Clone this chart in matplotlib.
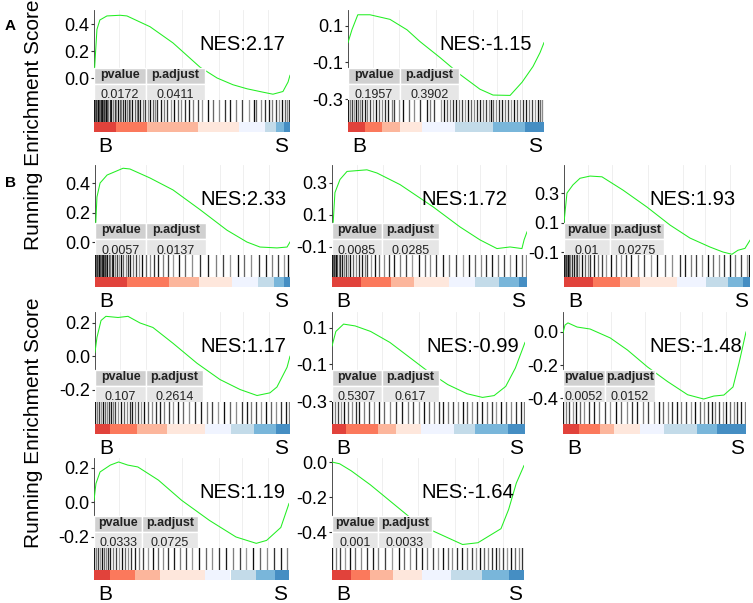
import matplotlib
matplotlib.use("Agg")
import matplotlib.pyplot as plt
from matplotlib.patches import Rectangle

plt.rcParams["font.family"] = ["Liberation Sans", "DejaVu Sans"]

W, H = 753, 603

#------------------------------------------------------------------------------
#- Data -----------------------------------------------------------------------
#------------------------------------------------------------------------------
# running enrichment score curves: x as fraction of the ranked list
a1_x = [0, 0.015, 0.03, 0.066, 0.133, 0.168, 0.286, 0.403, 0.541, 0.628, 0.709, 0.781, 0.862, 0.913, 0.964, 0.99, 1.0]
a1_es = [0.0, 0.36, 0.43, 0.46, 0.465, 0.46, 0.38, 0.26, 0.08, 0.0, -0.05, -0.08, -0.105, -0.12, -0.10, -0.03, 0.02]
a2_x = [0, 0.02, 0.05, 0.112, 0.214, 0.301, 0.367, 0.469, 0.571, 0.673, 0.74, 0.827, 0.888, 0.944, 0.98, 1.0]
a2_es = [0.008, 0.078, 0.16, 0.16, 0.135, 0.078, 0.014, -0.073, -0.165, -0.246, -0.278, -0.28, -0.208, -0.122, -0.046, 0.008]
b1_x = [0, 0.01, 0.026, 0.062, 0.144, 0.179, 0.282, 0.4, 0.538, 0.677, 0.779, 0.846, 0.933, 0.985, 1.0]
b1_es = [0.014, 0.305, 0.40, 0.454, 0.50, 0.495, 0.434, 0.353, 0.22, 0.08, 0.0, -0.034, -0.04, -0.034, 0.0]
b2_x = [0, 0.015, 0.041, 0.077, 0.179, 0.231, 0.349, 0.518, 0.656, 0.759, 0.846, 0.913, 0.974, 0.985, 1.0]
b2_es = [-0.075, 0.238, 0.32, 0.37, 0.38, 0.36, 0.288, 0.15, 0.025, -0.056, -0.11, -0.1, -0.11, -0.056, -0.006]
b3_x = [0, 0.016, 0.048, 0.086, 0.140, 0.204, 0.317, 0.446, 0.570, 0.677, 0.785, 0.855, 0.903, 0.935, 0.973, 1.0]
b3_es = [0.1, 0.3, 0.355, 0.40, 0.415, 0.41, 0.32, 0.205, 0.083, -0.005, -0.066, -0.1, -0.115, -0.088, -0.075, -0.02]
b4_x = [0, 0.01, 0.031, 0.056, 0.118, 0.169, 0.231, 0.297, 0.4, 0.523, 0.641, 0.744, 0.831, 0.897, 0.933, 0.985, 1.0]
b4_es = [0.024, 0.113, 0.215, 0.24, 0.233, 0.24, 0.2, 0.173, 0.078, -0.042, -0.14, -0.2, -0.236, -0.22, -0.185, -0.066, 0.0]
b5_x = [0, 0.02, 0.06, 0.12, 0.2, 0.3, 0.4, 0.5, 0.6, 0.7, 0.78, 0.84, 0.9, 0.95, 1.0]
b5_es = [0.0, 0.08, 0.12, 0.11, 0.08, 0.02, -0.06, -0.14, -0.21, -0.26, -0.28, -0.27, -0.22, -0.12, 0.02]
b6_x = [0, 0.011, 0.027, 0.077, 0.148, 0.258, 0.352, 0.462, 0.571, 0.681, 0.769, 0.824, 0.879, 0.929, 0.962, 1.0]
b6_es = [-0.006, 0.042, 0.055, 0.03, 0.018, -0.036, -0.109, -0.212, -0.3, -0.38, -0.406, -0.388, -0.382, -0.333, -0.188, 0.0]
b7_x = [0, 0.01, 0.031, 0.084, 0.126, 0.173, 0.225, 0.33, 0.450, 0.592, 0.728, 0.832, 0.885, 0.958, 1.0]
b7_es = [0.012, 0.11, 0.177, 0.217, 0.235, 0.217, 0.206, 0.13, 0.012, -0.104, -0.2, -0.237, -0.22, -0.145, -0.006]
b8_x = [0, 0.04, 0.1, 0.2, 0.3, 0.4, 0.5, 0.6, 0.68, 0.76, 0.82, 0.88, 0.92, 0.96, 1.0]
b8_es = [0.0, -0.01, -0.05, -0.13, -0.22, -0.31, -0.38, -0.43, -0.47, -0.46, -0.42, -0.38, -0.27, -0.12, -0.02]

# gene set hits (position out of 200 in the ranked list)
a1_hits = [0, 1, 2, 3, 4, 5, 6, 7, 8, 9, 10, 11, 12, 13, 14, 16, 17, 19, 21, 22, 24, 26, 27, 29, 31, 33, 35, 36, 38, 41, 43, 45, 47, 50, 52, 55, 57, 60, 62, 64, 68, 71, 74, 78, 81, 85, 88, 92, 97, 101, 106, 110, 116, 121, 127, 133, 138, 145, 151, 158, 163, 165, 170, 174, 178, 181, 185, 188, 191, 194, 197, 199]
a2_hits = [0, 2, 4, 6, 8, 10, 12, 14, 17, 19, 22, 25, 28, 31, 34, 37, 40, 44, 47, 52, 56, 62, 67, 73, 80, 83, 87, 95, 98, 101, 104, 107, 110, 113, 116, 119, 122, 125, 128, 131, 134, 137, 140, 143, 146, 148, 151, 154, 157, 160, 163, 166, 169, 172, 175, 178, 181, 184, 187, 190, 193, 196, 198]
b1_hits = [0, 1, 2, 3, 4, 5, 6, 7, 8, 9, 10, 11, 12, 14, 15, 17, 18, 20, 22, 24, 26, 28, 31, 33, 36, 39, 42, 45, 48, 52, 56, 60, 64, 69, 74, 80, 86, 92, 99, 107, 115, 124, 131, 138, 146, 152, 160, 168, 175, 181, 187, 193, 198]
b2_hits = [0, 1, 2, 3, 4, 5, 7, 8, 10, 12, 14, 16, 18, 21, 24, 27, 30, 33, 36, 40, 44, 48, 53, 58, 63, 69, 75, 82, 89, 95, 100, 106, 113, 120, 127, 134, 140, 146, 152, 158, 164, 170, 176, 182, 188, 194, 199]
b3_hits = [0, 1, 2, 3, 4, 5, 6, 8, 10, 12, 14, 16, 19, 22, 25, 28, 32, 36, 40, 45, 50, 55, 61, 66, 72, 79, 86, 93, 100, 108, 116, 124, 130, 136, 142, 148, 154, 160, 166, 172, 178, 184, 190, 196, 199]
b4_hits = [0, 2, 4, 6, 8, 10, 12, 14, 16, 18, 20, 23, 26, 29, 32, 35, 38, 41, 44, 47, 50, 54, 58, 62, 66, 70, 75, 80, 85, 90, 96, 102, 108, 114, 120, 126, 132, 138, 144, 150, 155, 160, 165, 170, 175, 180, 185, 190, 195, 199]
b5_hits = [0, 3, 6, 9, 12, 16, 20, 24, 28, 33, 38, 43, 48, 54, 60, 66, 72, 78, 84, 90, 95, 100, 105, 110, 115, 120, 125, 130, 135, 140, 145, 150, 155, 160, 165, 170, 175, 180, 185, 190, 195, 199]
b6_hits = [0, 3, 6, 10, 14, 18, 23, 28, 33, 39, 45, 51, 57, 63, 69, 75, 81, 87, 93, 99, 104, 109, 114, 119, 124, 129, 134, 139, 144, 149, 154, 158, 162, 166, 170, 174, 178, 182, 186, 190, 194, 198]
b7_hits = [0, 2, 4, 6, 8, 10, 12, 14, 16, 19, 22, 25, 28, 31, 34, 38, 42, 46, 50, 55, 60, 65, 70, 76, 82, 88, 94, 100, 107, 114, 121, 128, 135, 142, 149, 156, 163, 170, 177, 184, 191, 198]
b8_hits = [0, 4, 8, 13, 18, 24, 30, 36, 42, 48, 55, 62, 69, 75, 81, 87, 93, 99, 105, 110, 115, 120, 125, 130, 135, 140, 145, 150, 154, 158, 162, 166, 170, 174, 178, 182, 186, 190, 194, 198]

# ranked list colour band edges (fractions)
band_colors = ["#de2d26", "#fb6a4a", "#fcae91", "#fee5d9", "#eff3ff", "#bdd7e7", "#6baed6", "#3182bd"]
a1_bands = [0, 0.11, 0.27, 0.53, 0.74, 0.87, 0.93, 0.97, 1.0]
a2_bands = [0, 0.087, 0.173, 0.265, 0.378, 0.546, 0.74, 0.903, 1.0]
b1_bands = [0, 0.164, 0.379, 0.533, 0.703, 0.836, 0.918, 0.97, 1.0]
b2_bands = [0, 0.149, 0.303, 0.421, 0.6, 0.733, 0.856, 0.96, 1.0]
b3_bands = [0, 0.156, 0.301, 0.409, 0.608, 0.763, 0.882, 0.96, 1.0]
b4_bands = [0, 0.077, 0.215, 0.369, 0.564, 0.697, 0.815, 0.93, 1.0]
b5_bands = [0, 0.07, 0.24, 0.33, 0.46, 0.63, 0.74, 0.91, 1.0]
b6_bands = [0, 0.09, 0.2, 0.28, 0.42, 0.55, 0.73, 0.84, 1.0]
b7_bands = [0, 0.08, 0.21, 0.34, 0.57, 0.70, 0.83, 0.93, 1.0]
b8_bands = [0, 0.10, 0.2, 0.32, 0.47, 0.62, 0.78, 0.92, 1.0]

nes = ["2.17", "-1.15", "2.33", "1.72", "1.93", "1.17", "-0.99", "-1.48", "1.19", "-1.64"]
pvalues = ["0.0172", "0.1957", "0.0057", "0.0085", "0.01", "0.107", "0.5307", "0.0052", "0.0333", "0.001"]
padjust = ["0.0411", "0.3902", "0.0137", "0.0285", "0.0275", "0.2614", "0.617", "0.0152", "0.0725", "0.0033"]
yticks = [[0.0, 0.2, 0.4], [-0.3, -0.1, 0.1], [0.0, 0.2, 0.4], [-0.1, 0.1, 0.3], [-0.1, 0.1, 0.3],
          [-0.2, 0.0, 0.2], [-0.3, -0.1, 0.1], [-0.4, -0.2, 0.0], [-0.2, 0.0, 0.2], [-0.4, -0.2, 0.0]]
ylims = [(-0.163, 0.504), (-0.305, 0.186), (-0.088, 0.522), (-0.15, 0.41), (-0.12, 0.49),
         (-0.275, 0.266), (-0.305, 0.186), (-0.424, 0.121), (-0.264, 0.258), (-0.49, 0.023)]

curves = [(a1_x, a1_es), (a2_x, a2_es), (b1_x, b1_es), (b2_x, b2_es), (b3_x, b3_es),
          (b4_x, b4_es), (b5_x, b5_es), (b6_x, b6_es), (b7_x, b7_es), (b8_x, b8_es)]
hits = [a1_hits, a2_hits, b1_hits, b2_hits, b3_hits, b4_hits, b5_hits, b6_hits, b7_hits, b8_hits]
bands = [a1_bands, a2_bands, b1_bands, b2_bands, b3_bands, b4_bands, b5_bands, b6_bands, b7_bands, b8_bands]

#------------------------------------------------------------------------------
#- Layout (pixels) ------------------------------------------------------------
#------------------------------------------------------------------------------
# left, right, es_top, es_bottom
boxes = [(94, 290, 10, 100), (348, 544, 10, 100),
         (95, 290, 165, 255), (332, 527, 165, 255), (564, 750, 165, 255),
         (95, 290, 312, 402), (332, 525, 312, 402), (563, 746, 312, 402),
         (94, 289, 458, 548), (332, 524, 458, 548)]
nes_x = [0.975, 0.94, 0.98, 0.90, 0.92, 0.98, 0.97, 0.98, 0.98, 0.95]
# table cell widths in px
table_w = [(52, 59), (52, 59), (51, 60), (50, 57), (46, 54), (51, 57), (50, 57), (42, 50), (48, 56), (46, 54)]
# shade pattern for the barcode ticks (greys of the downscaled original)
tick_alpha = [0.9, 0.5, 0.75, 0.4, 0.95, 0.6, 0.45, 0.8]

fig = plt.figure(figsize=(W / 100, H / 100), dpi=100)


def px_axes(l, r, t, b):
    return fig.add_axes([l / W, 1 - b / H, (r - l) / W, (b - t) / H])


for i in range(len(boxes)):
    l, r, t, b = boxes[i]
    ax = px_axes(l, r, t, b)
    xs, es = curves[i]
    for g in [0.13, 0.26, 0.45, 0.64, 0.76, 0.89]:
        ax.axvline(g, color="#ececec", lw=0.6, zorder=0)
    ax.plot(xs, es, color="#22ee22", lw=0.75, zorder=3)
    ax.set_xlim(0, 1)
    ax.set_ylim(*ylims[i])
    ax.set_yticks(yticks[i])
    ax.set_yticklabels([f"{v:.1f}" for v in yticks[i]])
    ax.tick_params(axis="y", labelsize=13, length=2.5, pad=1, color="#333333")
    ax.set_xticks([])
    for s in ["top", "right", "bottom"]:
        ax.spines[s].set_visible(False)
    ax.spines["left"].set_color("#333333")
    ax.spines["left"].set_linewidth(0.6)

    # NES text
    ax.text(nes_x[i], 0.62, "NES:" + nes[i], transform=ax.transAxes, ha="right", va="center",
            fontsize=14.5, zorder=4)

    # p-value table at bottom left
    aw = r - l
    c1, c2 = table_w[i][0] / aw, table_w[i][1] / aw
    ax.add_patch(Rectangle((0, 0.18), c1, 0.18, transform=ax.transAxes, fc="#d0d0d0", ec="white", lw=1, zorder=5))
    ax.add_patch(Rectangle((c1, 0.18), c2, 0.18, transform=ax.transAxes, fc="#d0d0d0", ec="white", lw=1, zorder=5))
    ax.add_patch(Rectangle((0, -0.1), c1, 0.28, transform=ax.transAxes, fc="#e6e6e6", ec="white", lw=1, zorder=5))
    ax.add_patch(Rectangle((c1, -0.1), c2, 0.28, transform=ax.transAxes, fc="#e6e6e6", ec="white", lw=1, zorder=5))
    ax.text(c1 / 2, 0.275, "pvalue", transform=ax.transAxes, ha="center", va="center",
            fontsize=9, fontweight="bold", color="#222222", zorder=6)
    ax.text(c1 + c2 / 2, 0.275, "p.adjust", transform=ax.transAxes, ha="center", va="center",
            fontsize=9, fontweight="bold", color="#222222", zorder=6)
    ax.text(c1 / 2, 0.05, pvalues[i], transform=ax.transAxes, ha="center", va="center",
            fontsize=9, color="#222222", zorder=6, clip_on=True)
    ax.text(c1 + c2 / 2, 0.05, padjust[i], transform=ax.transAxes, ha="center", va="center",
            fontsize=9, color="#222222", zorder=6, clip_on=True)

    # barcode of hits
    bx = px_axes(l, r, b, b + 22)
    for k, h in enumerate(hits[i]):
        bx.axvline(h / 200 + 0.002, color="black", lw=0.95, alpha=tick_alpha[k % len(tick_alpha)])
    bx.set_xlim(0, 1)
    bx.set_ylim(0, 1)
    bx.axis("off")

    # ranked list colour bar
    cx = px_axes(l, r, b + 22, b + 32)
    edges = bands[i]
    for k in range(len(band_colors)):
        cx.axvspan(edges[k], edges[k + 1], color=band_colors[k], alpha=0.9, lw=0)
    cx.set_xlim(0, 1)
    cx.axis("off")

    fig.text((l + 4) / W, 1 - (b + 46) / H, "B", ha="left", va="center", fontsize=15)
    fig.text((r - 2) / W, 1 - (b + 46) / H, "S", ha="right", va="center", fontsize=15)

fig.text(34 / W, 1 - 125 / H, "Running Enrichment Score", rotation=90, ha="center", va="center", fontsize=15)
fig.text(34 / W, 1 - 423 / H, "Running Enrichment Score", rotation=90, ha="center", va="center", fontsize=15)
fig.text(10 / W, 1 - 26 / H, "A", ha="center", va="center", fontsize=11, fontweight="bold")
fig.text(10 / W, 1 - 183 / H, "B", ha="center", va="center", fontsize=11, fontweight="bold")

fig.savefig("out.png", dpi=100)
